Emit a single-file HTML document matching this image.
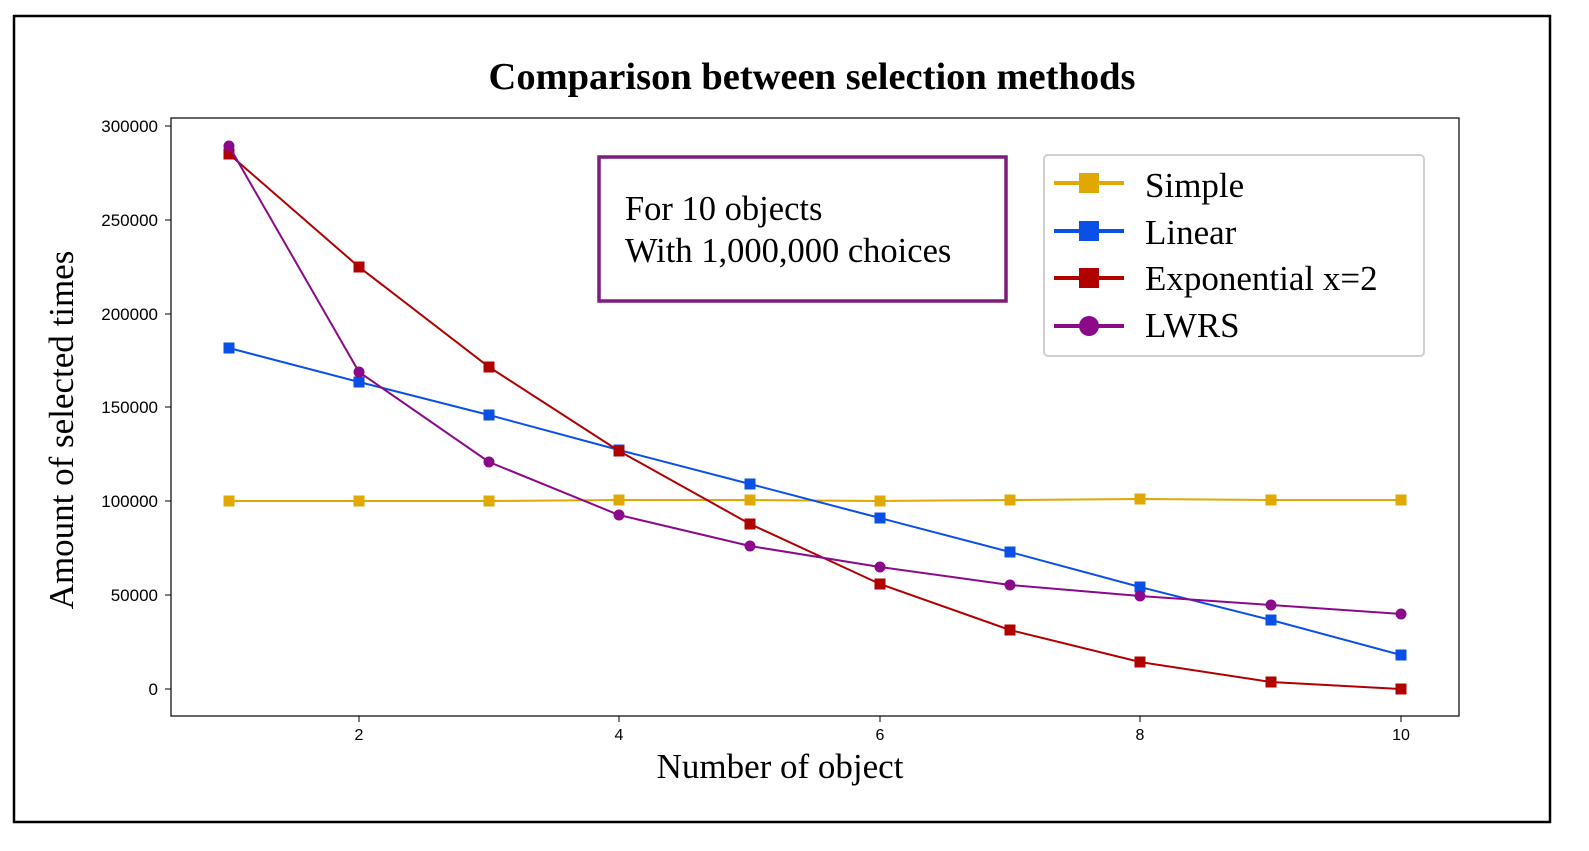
<!DOCTYPE html>
<html><head><meta charset="utf-8"><style>
html,body{margin:0;padding:0;background:#fff;}
svg{display:block;}
</style></head><body>
<svg width="1589" height="851" viewBox="0 0 1589 851" xmlns="http://www.w3.org/2000/svg">
<rect x="0" y="0" width="1589" height="851" fill="#fff"/>
<rect x="14" y="16" width="1536" height="806" fill="none" stroke="#000" stroke-width="2.5"/>
<text x="812" y="89" text-anchor="middle" font-family="Liberation Serif, serif" font-weight="bold" font-size="38.5">Comparison between selection methods</text>
<rect x="171" y="118" width="1288" height="598" fill="none" stroke="#000" stroke-width="1.2"/>
<g font-family="Liberation Sans, sans-serif" font-size="17" text-anchor="end" fill="#000">
<text x="158" y="695">0</text><line x1="165" y1="689" x2="171" y2="689" stroke="#000"/>
<text x="158" y="601">50000</text><line x1="165" y1="595" x2="171" y2="595" stroke="#000"/>
<text x="158" y="507">100000</text><line x1="165" y1="501" x2="171" y2="501" stroke="#000"/>
<text x="158" y="413">150000</text><line x1="165" y1="407" x2="171" y2="407" stroke="#000"/>
<text x="158" y="320">200000</text><line x1="165" y1="314" x2="171" y2="314" stroke="#000"/>
<text x="158" y="226">250000</text><line x1="165" y1="220" x2="171" y2="220" stroke="#000"/>
<text x="158" y="132">300000</text><line x1="165" y1="126" x2="171" y2="126" stroke="#000"/>
</g>
<g font-family="Liberation Sans, sans-serif" font-size="16" text-anchor="middle">
<line x1="359" y1="716" x2="359" y2="722" stroke="#000"/><text x="359" y="740">2</text>
<line x1="619" y1="716" x2="619" y2="722" stroke="#000"/><text x="619" y="740">4</text>
<line x1="880" y1="716" x2="880" y2="722" stroke="#000"/><text x="880" y="740">6</text>
<line x1="1140" y1="716" x2="1140" y2="722" stroke="#000"/><text x="1140" y="740">8</text>
<line x1="1401" y1="716" x2="1401" y2="722" stroke="#000"/><text x="1401" y="740">10</text>
</g>
<text x="780" y="778" text-anchor="middle" font-family="Liberation Serif, serif" font-size="35">Number of object</text>
<text transform="translate(73,430) rotate(-90)" text-anchor="middle" font-family="Liberation Serif, serif" font-size="35">Amount of selected times</text>
<!-- Simple -->
<g stroke="#e0a800" fill="#e0a800">
<polyline fill="none" stroke-width="2" points="229,501 359,501 489,501 619,500 750,500 880,501 1010,500 1140,499 1271,500 1401,500"/>
<rect x="224" y="496" width="10" height="10"/><rect x="354" y="496" width="10" height="10"/><rect x="484" y="496" width="10" height="10"/><rect x="614" y="495" width="10" height="10"/><rect x="745" y="495" width="10" height="10"/><rect x="875" y="496" width="10" height="10"/><rect x="1005" y="495" width="10" height="10"/><rect x="1135" y="494" width="10" height="10"/><rect x="1266" y="495" width="10" height="10"/><rect x="1396" y="495" width="10" height="10"/>
</g>
<!-- Linear -->
<g stroke="#0a50e6" fill="#0a50e6">
<polyline fill="none" stroke-width="2" points="229,348 359,382 489,415 619,450 750,484 880,518 1010,552 1140,587 1271,620 1401,655"/>
<rect x="224" y="343" width="10" height="10"/><rect x="354" y="377" width="10" height="10"/><rect x="484" y="410" width="10" height="10"/><rect x="614" y="445" width="10" height="10"/><rect x="745" y="479" width="10" height="10"/><rect x="875" y="513" width="10" height="10"/><rect x="1005" y="547" width="10" height="10"/><rect x="1135" y="582" width="10" height="10"/><rect x="1266" y="615" width="10" height="10"/><rect x="1396" y="650" width="10" height="10"/>
</g>
<!-- Exponential -->
<g stroke="#b00000" fill="#b00000">
<polyline fill="none" stroke-width="2" points="229,154 359,267 489,367 619,451 750,524 880,584 1010,630 1140,662 1271,682 1401,689"/>
<rect x="224" y="149" width="10" height="10"/><rect x="354" y="262" width="10" height="10"/><rect x="484" y="362" width="10" height="10"/><rect x="614" y="446" width="10" height="10"/><rect x="745" y="519" width="10" height="10"/><rect x="875" y="579" width="10" height="10"/><rect x="1005" y="625" width="10" height="10"/><rect x="1135" y="657" width="10" height="10"/><rect x="1266" y="677" width="10" height="10"/><rect x="1396" y="684" width="10" height="10"/>
</g>
<!-- LWRS -->
<g stroke="#8a0a8a" fill="#8a0a8a">
<polyline fill="none" stroke-width="2" points="229,146 359,372 489,462 619,515 750,546 880,567 1010,585 1140,596 1271,605 1401,614"/>
<circle cx="229" cy="146" r="5"/><circle cx="359" cy="372" r="5"/><circle cx="489" cy="462" r="5"/><circle cx="619" cy="515" r="5"/><circle cx="750" cy="546" r="5"/><circle cx="880" cy="567" r="5"/><circle cx="1010" cy="585" r="5"/><circle cx="1140" cy="596" r="5"/><circle cx="1271" cy="605" r="5"/><circle cx="1401" cy="614" r="5"/>
</g>
<!-- annotation -->
<rect x="599" y="157" width="407" height="144" fill="#fff" stroke="#7d1b7e" stroke-width="3.5"/>
<text x="625" y="220" font-family="Liberation Serif, serif" font-size="34.5">For 10 objects</text>
<text x="625" y="262" font-family="Liberation Serif, serif" font-size="34.5">With 1,000,000 choices</text>
<!-- legend -->
<rect x="1044" y="155" width="380" height="201" rx="4" fill="#fff" stroke="#d0d0d0" stroke-width="2"/>
<g font-family="Liberation Serif, serif" font-size="35">
<line x1="1054" y1="183" x2="1124" y2="183" stroke="#e0a800" stroke-width="4"/><rect x="1079" y="173" width="20" height="20" fill="#e0a800"/><text x="1145" y="197">Simple</text>
<line x1="1054" y1="231" x2="1124" y2="231" stroke="#0a50e6" stroke-width="4"/><rect x="1079" y="221" width="20" height="20" fill="#0a50e6"/><text x="1145" y="244">Linear</text>
<line x1="1054" y1="278" x2="1124" y2="278" stroke="#b00000" stroke-width="4"/><rect x="1079" y="268" width="20" height="20" fill="#b00000"/><text x="1145" y="290">Exponential x=2</text>
<line x1="1054" y1="326" x2="1124" y2="326" stroke="#8a0a8a" stroke-width="4"/><circle cx="1089" cy="326" r="10" fill="#8a0a8a"/><text x="1145" y="337">LWRS</text>
</g>
</svg>
</body></html>
